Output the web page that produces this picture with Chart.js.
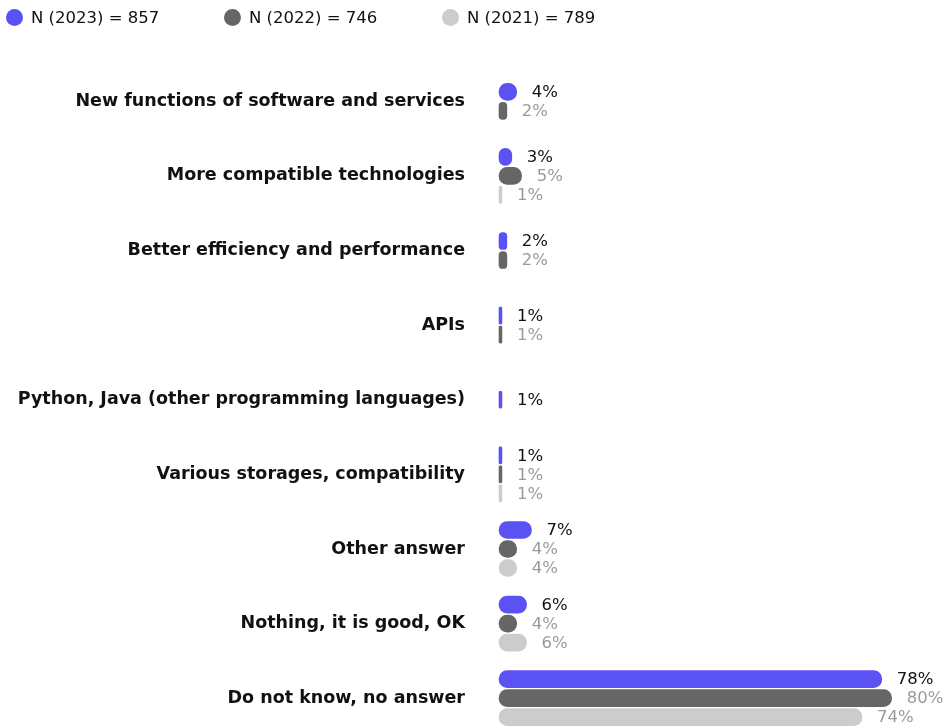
<!DOCTYPE html>
<html>
<head>
<meta charset="utf-8">
<script src="https://cdn.jsdelivr.net/npm/chart.js@4"></script>
<style>
    html, body { margin: 0; padding: 0; background: #fff; overflow: hidden; }
    #wrap { position: relative; width: 952px; height: 728px; overflow: hidden; }
    #legend { position: absolute; left: 6px; top: 8px; display: flex; font-family: 'DejaVu Sans', sans-serif; font-size: 16.5px; color: #111; }
    .item { width: 218px; display: flex; align-items: center; }
    .dot { width: 17px; height: 17px; border-radius: 50%; margin-right: 8px; }
    canvas { position: absolute; left: 0; top: 0; }
</style>
</head>
<body>
<div id="wrap">
    <canvas id="chart" width="952" height="779"></canvas>
    <div id="legend"></div>
</div>
<script>
const categories = [
    'New functions of software and services',
    'More compatible technologies',
    'Better efficiency and performance',
    'APIs',
    'Python, Java (other programming languages)',
    'Various storages, compatibility',
    'Other answer',
    'Nothing, it is good, OK',
    'Do not know, no answer'
]
const seriesNames = ['N (2023) = 857', 'N (2022) = 746', 'N (2021) = 789']
const values2023 = [4, 3, 2, 1, 1, 1, 7, 6, 78]
const values2022 = [2, 5, 2, 1, null, 1, 4, 4, 80]
const values2021 = [null, 1, null, null, null, 1, 4, 6, 74]

const barColors = ['#5b52f3', '#666666', '#cccccc']
const labelColors = ['#111111', '#9a9a9a', '#9a9a9a']

// html legend
const legend = document.getElementById('legend')
seriesNames.forEach((name, i) => {
    const item = document.createElement('div')
    item.className = 'item'
    item.innerHTML = `<span class="dot" style="background:${barColors[i]}"></span><span>${name}</span>`
    legend.appendChild(item)
})

const valueLabels = {
    id: 'valueLabels',
    afterDatasetsDraw(chart) {
        const ctx = chart.ctx
        ctx.save()
        ctx.font = '16.5px "DejaVu Sans", sans-serif'
        ctx.textBaseline = 'middle'
        ctx.textAlign = 'left'
        chart.data.datasets.forEach((dataset, i) => {
            const meta = chart.getDatasetMeta(i)
            meta.data.forEach((bar, j) => {
                const value = dataset.data[j]
                if (value === null || value === undefined) return
                ctx.fillStyle = labelColors[i]
                ctx.fillText(`${value}%`, bar.x + 14, bar.y + 1)
            })
        })
        ctx.restore()
    }
}

const seriesData = [values2023, values2022, values2021]

new Chart(document.getElementById('chart'), {
    type: 'bar',
    data: {
        labels: categories,
        datasets: seriesData.map((data, i) => ({
            label: seriesNames[i],
            data: data,
            backgroundColor: barColors[i],
            borderColor: '#ffffff',
            borderWidth: 1,
            borderSkipped: false,
            borderRadius: 20,
            barThickness: 19,
            skipNull: true
        }))
    },
    options: {
        indexAxis: 'y',
        responsive: false,
        devicePixelRatio: 1,
        animation: false,
        layout: { padding: { top: 64, bottom: 1, left: 0, right: 10 } },
        plugins: {
            legend: { display: false },
            tooltip: { enabled: false }
        },
        scales: {
            x: {
                display: false,
                min: 0,
                max: 90
            },
            y: {
                grid: { display: false, drawTicks: false },
                border: { display: false },
                afterFit: (scale) => { scale.width = 498 },
                ticks: {
                    padding: 33,
                    color: '#111111',
                    font: { family: '"DejaVu Sans", sans-serif', size: 17.5, weight: 'bold' }
                }
            }
        }
    },
    plugins: [valueLabels]
})
</script>
</body>
</html>
